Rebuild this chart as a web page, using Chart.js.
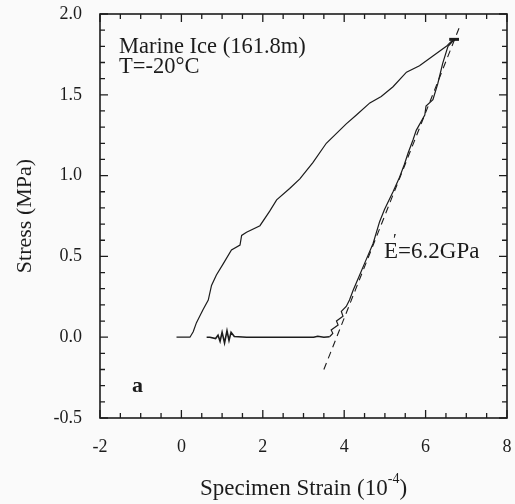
<!DOCTYPE html>
<html><head><meta charset="utf-8">
<script src="https://cdn.jsdelivr.net/npm/chart.js@4/dist/chart.umd.min.js"></script>
<style>html,body{margin:0;padding:0;background:#fafafa}</style>
</head><body>
<canvas id="c" width="515" height="504"></canvas>
<script>
// ---- data (strain in 1e-4, stress in MPa) ----
const loadX = [-0.12, 0.21, 0.29, 0.37, 0.53, 0.66, 0.74, 0.86, 1.03, 1.23, 1.44, 1.48, 1.60, 1.93, 2.17, 2.34, 2.66, 2.91, 3.23, 3.56, 4.05, 4.30, 4.63, 4.91, 5.20, 5.53, 5.85, 6.18, 6.51, 6.63, 6.71];
const loadY = [0.0, 0.0, 0.034, 0.09, 0.17, 0.23, 0.32, 0.385, 0.455, 0.54, 0.57, 0.63, 0.65, 0.69, 0.78, 0.85, 0.92, 0.98, 1.08, 1.20, 1.32, 1.375, 1.45, 1.49, 1.55, 1.64, 1.68, 1.74, 1.80, 1.83, 1.84];
const unloadX = [6.71, 6.66, 6.55, 6.42, 6.30, 6.18, 6.01, 5.98, 5.77, 5.69, 5.57, 5.48, 5.36, 5.20, 4.99, 4.87, 4.71, 4.54, 4.38, 4.22, 4.13, 4.05, 3.93, 3.97, 3.81, 3.85, 3.68, 3.72, 3.64];
const unloadY = [1.84, 1.83, 1.80, 1.695, 1.57, 1.47, 1.43, 1.375, 1.28, 1.22, 1.14, 1.07, 0.99, 0.90, 0.79, 0.715, 0.58, 0.48, 0.385, 0.29, 0.23, 0.19, 0.16, 0.13, 0.10, 0.075, 0.045, 0.024, 0.003];
const holdX = [3.64, 3.50, 3.35, 3.25, 2.50, 1.60, 1.30, 1.22, 1.17, 1.12, 1.06, 1.00, 0.95, 0.90, 0.84, 0.70, 0.62];
const holdY = [0.003, 0.0, 0.006, 0.0, 0.0, 0.0, 0.004, 0.03, -0.02, 0.04, -0.035, 0.03, -0.025, 0.012, -0.008, 0.0, 0.0];
const peakX = [6.58, 6.82];
const peakY = [1.843, 1.843];
const fitX = [3.50, 6.85];
const fitY = [-0.20, 1.93];
const xTicks = [-2, 0, 2, 4, 6, 8];
const yTicks = [-0.5, 0.0, 0.5, 1.0, 1.5, 2.0];
const xMinorStep = 0.5, yMinorStep = 0.1;

const SERIF = '"Liberation Serif", "DejaVu Serif", serif';
const INK = '#1c1c1c';
const pts = (xs, ys) => xs.map((x, i) => ({x, y: ys[i]}));

const framePlugin = {
  id: 'frame',
  beforeDraw(chart) {
    const c = chart.ctx;
    c.save(); c.fillStyle = '#fafafa'; c.fillRect(0, 0, chart.width, chart.height); c.restore();
  },
  afterDatasetsDraw(chart) {
    const c = chart.ctx, a = chart.chartArea, sx = chart.scales.x, sy = chart.scales.y;
    c.save();
    c.strokeStyle = INK; c.lineWidth = 1.6;
    c.strokeRect(a.left, a.top, a.right - a.left, a.bottom - a.top);
    c.lineWidth = 1.3;
    c.beginPath();
    const nx = Math.round((sx.max - sx.min) / xMinorStep);
    for (let i = 0; i <= nx; i++) {
      const v = sx.min + i * xMinorStep;
      const px = sx.getPixelForValue(v);
      const L = xTicks.some(t => Math.abs(t - v) < 1e-9) ? 8 : 5;
      c.moveTo(px, a.bottom); c.lineTo(px, a.bottom - L);
      c.moveTo(px, a.top); c.lineTo(px, a.top + L);
    }
    const ny = Math.round((sy.max - sy.min) / yMinorStep);
    for (let i = 0; i <= ny; i++) {
      const v = sy.min + i * yMinorStep;
      const py = sy.getPixelForValue(v);
      const L = yTicks.some(t => Math.abs(t - v) < 1e-9) ? 8 : 5;
      c.moveTo(a.left, py); c.lineTo(a.left + L, py);
      c.moveTo(a.right, py); c.lineTo(a.right - L, py);
    }
    c.stroke();
    c.restore();
  },
  afterDraw(chart) {
    const c = chart.ctx;
    const a = chart.chartArea;
    c.save();
    c.fillStyle = INK;
    c.textBaseline = 'alphabetic';
    c.textAlign = 'left';
    c.font = '22.5px ' + SERIF;
    c.fillText('Marine Ice (161.8m)', 119, 53);
    c.fillText('T=-20\u00B0C', 119, 73);
    // E' = 6.2GPa
    let x0 = 384, yb = 258;
    c.font = '23px ' + SERIF;
    c.fillText('E', x0, yb);
    const wE = c.measureText('E').width;
    c.font = '17px ' + SERIF;
    c.fillText('\u2032', x0 + wE - 5, yb - 13);
    c.font = '23px ' + SERIF;
    c.fillText('=6.2GPa', x0 + wE, yb);
    // panel letter
    c.font = 'bold 22px ' + SERIF;
    c.fillText('a', 132, 392);
    // x title with superscript
    const t1 = 'Specimen Strain (10', sup = '-4', t2 = ')';
    c.font = '23px ' + SERIF; const w1 = c.measureText(t1).width, w3 = c.measureText(t2).width;
    c.font = '14px ' + SERIF; const w2 = c.measureText(sup).width;
    const cx = (a.left + a.right) / 2;
    let xs = cx - (w1 + w2 + w3) / 2;
    const yt = 495;
    c.font = '23px ' + SERIF; c.fillText(t1, xs, yt);
    c.font = '14px ' + SERIF; c.fillText(sup, xs + w1, yt - 12);
    c.font = '23px ' + SERIF; c.fillText(t2, xs + w1 + w2, yt);
    // y title
    c.font = '22px ' + SERIF;
    c.translate(31, (a.top + a.bottom) / 2);
    c.rotate(-Math.PI / 2);
    c.textAlign = 'center';
    c.fillText('Stress (MPa)', 0, 0);
    c.restore();
  }
};

const lineDs = (data, extra) => Object.assign({
  data, showLine: true, pointRadius: 0, borderColor: INK, borderWidth: 1.2,
  fill: false, tension: 0
}, extra || {});

new Chart(document.getElementById('c'), {
  type: 'scatter',
  data: {
    datasets: [
      lineDs(pts(loadX, loadY)),
      lineDs(pts(unloadX, unloadY)),
      lineDs(pts(holdX, holdY), {borderWidth: 1.6}),
      lineDs(pts(peakX, peakY), {borderWidth: 3}),
      lineDs(pts(fitX, fitY), {borderDash: [7, 5], borderWidth: 1.1})
    ]
  },
  options: {
    responsive: false, animation: false, devicePixelRatio: 1,
    layout: {padding: {left: 0, right: 8, top: 14, bottom: 0}},
    plugins: {legend: {display: false}, tooltip: {enabled: false}},
    scales: {
      x: {
        type: 'linear', min: -2, max: 8,
        grid: {display: false, drawTicks: false}, border: {display: false},
        afterBuildTicks: s => { s.ticks = xTicks.map(v => ({value: v})); },
        ticks: {padding: 18, color: INK, font: {family: SERIF, size: 18}, callback: v => String(v)},
        afterFit: s => { s.height = 86; s.paddingLeft = 0; s.paddingRight = 0; }
      },
      y: {
        type: 'linear', min: -0.5, max: 2.0,
        grid: {display: false, drawTicks: false}, border: {display: false},
        afterBuildTicks: s => { s.ticks = yTicks.map(v => ({value: v})); },
        ticks: {padding: 18, color: INK, font: {family: SERIF, size: 18}, callback: v => Number(v).toFixed(1)},
        afterFit: s => { s.width = 100; s.paddingTop = 0; s.paddingBottom = 0; }
      }
    }
  },
  plugins: [framePlugin]
});
</script>
</body></html>
